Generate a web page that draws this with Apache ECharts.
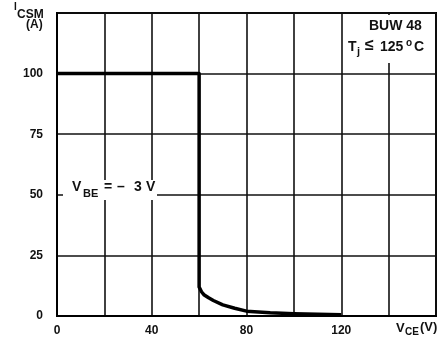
<!DOCTYPE html>
<html><head><meta charset="utf-8">
<script src="https://cdn.jsdelivr.net/npm/echarts@6/dist/echarts.min.js"></script>
<style>html,body{margin:0;padding:0;background:#fff}#c{width:446px;height:338px}</style>
</head><body><div id="c"></div>
<script>
// Data
const vce = [0, 60, 60, 61, 62, 64, 66, 70, 75, 80, 90, 100, 110, 120];
const icsm = [100, 100, 12, 10, 8.8, 7.5, 6.4, 4.6, 3.2, 2.0, 1.3, 0.9, 0.7, 0.5];
const xTickLabels = [0, 40, 80, 120];
const yTickLabels = [0, 25, 50, 75, 100];

const FONT = '"Liberation Sans", Arial, Helvetica, sans-serif';
const chart = echarts.init(document.getElementById('c'));
const t = (text, x, y, size, extra) => Object.assign({
  type: 'text', z: 20, style: { text, x, y, font: 'bold ' + size + 'px ' + FONT, fill: '#111', verticalAlign: 'top', textVerticalAlign: 'top' }
}, extra || {});
chart.setOption({
  animation: false,
  backgroundColor: '#fff',
  grid: { left: 57, top: 13, right: 10, bottom: 22, show: true, borderColor: '#000', borderWidth: 2, backgroundColor: 'transparent' },
  xAxis: {
    type: 'value', min: 0, max: 160, interval: 20,
    axisLine: { show: true, lineStyle: { color: '#000', width: 2 } },
    axisTick: { show: false },
    splitLine: { show: true, lineStyle: { color: '#111', width: 1.6 } },
    axisLabel: { margin: 9, color: '#111', fontFamily: FONT, fontWeight: 'bold', fontSize: 12,
      formatter: v => xTickLabels.includes(v) ? String(v) : '' }
  },
  yAxis: {
    type: 'value', min: 0, max: 125, interval: 25,
    axisLine: { show: true, lineStyle: { color: '#000', width: 2 } },
    axisTick: { show: false },
    splitLine: { show: true, lineStyle: { color: '#111', width: 1.6 } },
    axisLabel: { margin: 14, color: '#111', fontFamily: FONT, fontWeight: 'bold', fontSize: 12,
      formatter: v => yTickLabels.includes(v) ? String(v) : '' }
  },
  series: [{
    type: 'line', data: vce.map((x, i) => [x, icsm[i]]), symbol: 'none', z: 5,
    lineStyle: { color: '#000', width: 3.5, join: 'round', cap: 'butt' }
  }],
  graphic: [
    { type: 'rect', z: 10, shape: { x: 344, y: 15, width: 90, height: 48 }, style: { fill: '#fff' } },
    { type: 'rect', z: 10, shape: { x: 63, y: 180, width: 94, height: 20 }, style: { fill: '#fff' } },
    t('I', 14, 2, 10),
    t('CSM', 17, 9, 12),
    t('(A)', 26, 19, 12),
    t('BUW 48', 369, 19, 14),
    t('T', 348, 40, 14),
    t('j', 357, 46, 11),
    t('\u2264', 365, 38, 16),
    t('125', 380, 40, 14),
    t('o', 406, 38, 10),
    t('C', 414, 40, 14),
    t('V', 72, 180, 14),
    t('BE', 83, 188, 11),
    t('=', 104, 180, 14),
    t('\u2013', 117, 180, 14),
    t('3', 134, 180, 14),
    t('V', 146, 180, 14),
    t('V', 396, 322, 13),
    t('CE', 405, 327, 10),
    t('(V)', 420, 321, 13)
  ]
});
</script></body></html>
